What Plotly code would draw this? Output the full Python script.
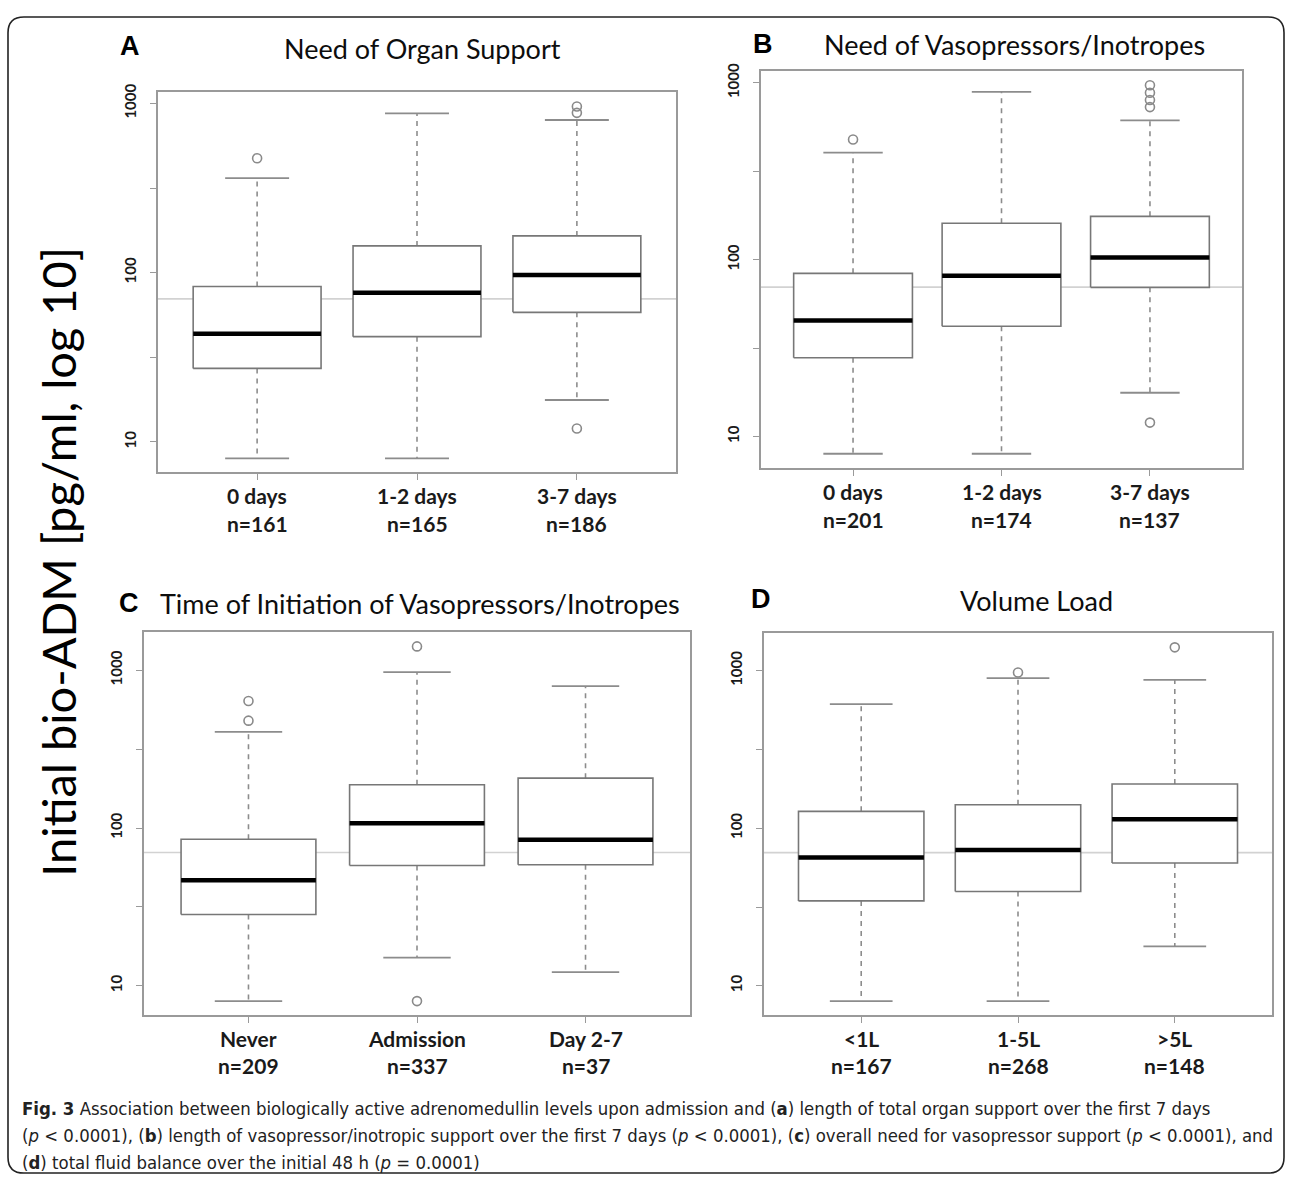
import math
import plotly.graph_objects as go

# ---------------- data ----------------
cats_A = ["0 days", "1-2 days", "3-7 days"]
n_A = [161, 165, 186]
q1_A = [27.2, 41.9, 58.3]
med_A = [43.6, 76.2, 96.9]
q3_A = [82.9, 144, 165]
lo_A = [8.0, 8.0, 17.7]
hi_A = [362, 873, 798]
out_A = [[474], [], [12.0, 880, 960]]

cats_B = ["0 days", "1-2 days", "3-7 days"]
n_B = [201, 174, 137]
q1_B = [27.9, 42.1, 69.8]
med_B = [45.4, 81.3, 103]
q3_B = [83.8, 161, 176]
lo_B = [8.0, 8.0, 17.7]
hi_B = [403, 889, 614]
out_B = [[479], [], [12.0, 730, 800, 880, 970]]

cats_C = ["Never", "Admission", "Day 2-7"]
n_C = [209, 337, 37]
q1_C = [28.3, 57.9, 58.5]
med_C = [46.6, 107, 84.4]
q3_C = [84.8, 188, 207]
lo_C = [8.0, 15.1, 12.2]
hi_C = [407, 973, 793]
out_C = [[479, 638], [8.0, 1416], []]

cats_D = ["<1L", "1-5L", ">5L"]
n_D = [167, 268, 148]
q1_D = [34.6, 39.7, 60.2]
med_D = [65.3, 72.8, 114]
q3_D = [128, 141, 191]
lo_D = [8.0, 8.0, 17.8]
hi_D = [613, 896, 875]
out_D = [[], [973], [1406]]

ref_level = 70

panel_letters = ["A", "B", "C", "D"]
panel_titles = ["Need of Organ Support", "Need of Vasopressors/Inotropes",
                "Time of Initiation of Vasopressors/Inotropes", "Volume Load"]
y_title = "Initial bio-ADM [pg/ml, log 10]"
ytick_vals = [10, 10 ** 1.5, 100, 10 ** 2.5, 1000]
ytick_text = ["<b>10</b>", "", "<b>100</b>", "", "<b>1000</b>"]

caption_lines = [
    "<b>Fig. 3</b> Association between biologically active adrenomedullin levels upon admission and (<b>a</b>) length of total organ support over the first 7 days",
    "(<i>p</i> &lt; 0.0001), (<b>b</b>) length of vasopressor/inotropic support over the first 7 days (<i>p</i> &lt; 0.0001), (<b>c</b>) overall need for vasopressor support (<i>p</i> &lt; 0.0001), and",
    "(<b>d</b>) total fluid balance over the initial 48 h (<i>p</i> = 0.0001)",
]

# ---------------- layout geometry (pixels) ----------------
W, H = 1290, 1180
# frame: (left, right, top, bottom)
frames = [(158, 676, 84, 467), (761, 1242, 62, 463),
          (144, 690, 628, 1014), (764, 1272, 629, 1014)]
letter_pos = [(130, 37), (763, 35), (129, 599), (761, 595)]
title_pos = [(422, 40), (1014, 36), (420, 599), (1036, 596)]


def px(x):
    return x / W


def py(y):
    return 1 - y / H


panels = [
    (cats_A, n_A, q1_A, med_A, q3_A, lo_A, hi_A, out_A),
    (cats_B, n_B, q1_B, med_B, q3_B, lo_B, hi_B, out_B),
    (cats_C, n_C, q1_C, med_C, q3_C, lo_C, hi_C, out_C),
    (cats_D, n_D, q1_D, med_D, q3_D, lo_D, hi_D, out_D),
]

fig = go.Figure()

BOX_COL = "#777777"
WHISK_COL = "#8c8c8c"
FRAME_COL = "#9a9a9a"
OUT_COL = "#8a8a8a"
LABEL_FONT = "Lato, Open Sans, sans-serif"

for p, (cats, ns, q1, med, q3, lo, hi, outs) in enumerate(panels):
    xa = "x" if p == 0 else f"x{p+1}"
    ya = "y" if p == 0 else f"y{p+1}"
    L, R, T, B = frames[p]
    for i in range(len(cats)):
        c = i + 1
        hw = 0.4
        cw = 0.2
        # whiskers (dashed)
        fig.add_trace(go.Scatter(x=[c, c], y=[q3[i], hi[i]], mode="lines",
                                 line=dict(color=WHISK_COL, width=1.6, dash="5px,5px"),
                                 xaxis=xa, yaxis=ya, showlegend=False, hoverinfo="skip"))
        fig.add_trace(go.Scatter(x=[c, c], y=[q1[i], lo[i]], mode="lines",
                                 line=dict(color=WHISK_COL, width=1.6, dash="5px,5px"),
                                 xaxis=xa, yaxis=ya, showlegend=False, hoverinfo="skip"))
        # caps
        for v in (hi[i], lo[i]):
            fig.add_trace(go.Scatter(x=[c - cw, c + cw], y=[v, v], mode="lines",
                                     line=dict(color=WHISK_COL, width=1.8),
                                     xaxis=xa, yaxis=ya, showlegend=False, hoverinfo="skip"))
        # box
        fig.add_trace(go.Scatter(x=[c - hw, c + hw, c + hw, c - hw, c - hw],
                                 y=[q1[i], q1[i], q3[i], q3[i], q1[i]], mode="lines",
                                 fill="toself", fillcolor="white",
                                 line=dict(color=BOX_COL, width=1.6),
                                 xaxis=xa, yaxis=ya, showlegend=False, hoverinfo="skip"))
        # median
        fig.add_trace(go.Scatter(x=[c - hw, c + hw], y=[med[i], med[i]], mode="lines",
                                 line=dict(color="black", width=4.5),
                                 xaxis=xa, yaxis=ya, showlegend=False, hoverinfo="skip"))
        # outliers
        if outs[i]:
            fig.add_trace(go.Scatter(x=[c] * len(outs[i]), y=outs[i], mode="markers",
                                     marker=dict(symbol="circle-open", size=9,
                                                 color=OUT_COL, line=dict(width=1.6, color=OUT_COL)),
                                     xaxis=xa, yaxis=ya, showlegend=False, hoverinfo="skip"))
        # category labels (two lines under the axis)
        for text, off in ((cats[i], 23), (f"n={ns[i]}", 51)):
            fig.add_annotation(x=c, xref=xa, y=py(B + off), yref="paper",
                               text=f"<b>{text.replace('<', '&lt;').replace('>', '&gt;')}</b>",
                               showarrow=False, xanchor="center", yanchor="middle",
                               font=dict(family=LABEL_FONT, size=21, color="#1a1a1a"))

    # axis ranges, R-style 4% padding in log space
    allv = lo + hi + [v for o in outs for v in o]
    lmin, lmax = math.log10(min(allv)), math.log10(max(allv))
    pad = 0.04 * (lmax - lmin)
    xkey = "xaxis" if p == 0 else f"xaxis{p+1}"
    ykey = "yaxis" if p == 0 else f"yaxis{p+1}"
    fig.layout[xkey] = dict(
        domain=[px(L), px(R)], range=[0.38, 3.62], anchor=ya,
        tickvals=[1, 2, 3], showticklabels=False,
        ticks="outside", ticklen=6, tickcolor=FRAME_COL, tickwidth=1.4,
        showline=True, mirror=True, linecolor=FRAME_COL, linewidth=1.6,
        showgrid=False, zeroline=False, fixedrange=True,
    )
    fig.layout[ykey] = dict(
        domain=[py(B), py(T)], type="log", range=[lmin - pad, lmax + pad], anchor=xa,
        tickvals=ytick_vals, ticktext=ytick_text, tickangle=-90,
        tickfont=dict(family=LABEL_FONT, size=15, color="#1a1a1a"),
        ticks="outside", ticklen=6, tickcolor=FRAME_COL, tickwidth=1.4,
        ticklabelstandoff=8,
        showline=True, mirror=True, linecolor=FRAME_COL, linewidth=1.6,
        showgrid=False, zeroline=False, fixedrange=True,
    )
    # reference line
    fig.add_shape(type="line", xref=f"{xa} domain", yref=ya, x0=0, x1=1,
                  y0=ref_level, y1=ref_level, line=dict(color="#d2d2d2", width=1.6),
                  layer="below")
    # panel letter and title
    lx, ly = letter_pos[p]
    fig.add_annotation(x=px(lx), y=py(ly), xref="paper", yref="paper", text=f"<b>{panel_letters[p]}</b>",
                       showarrow=False, font=dict(family="Liberation Sans, Arial, sans-serif", size=27, color="black"),
                       xanchor="center", yanchor="middle")
    tx, ty = title_pos[p]
    fig.add_annotation(x=px(tx), y=py(ty), xref="paper", yref="paper", text=panel_titles[p],
                       showarrow=False, font=dict(family=LABEL_FONT, size=27, color="#0d0d0d"),
                       xanchor="center", yanchor="middle")

# big y title
fig.add_annotation(x=px(58), y=py(557), xref="paper", yref="paper", text=y_title, textangle=-90,
                   showarrow=False, font=dict(family=LABEL_FONT, size=47, color="black"),
                   xanchor="center", yanchor="middle")

# caption
for k, (line, yy) in enumerate(zip(caption_lines, [1108, 1135, 1162])):
    fig.add_annotation(x=px(20), y=py(yy), xref="paper", yref="paper", text=line,
                       showarrow=False, align="left",
                       font=dict(family="DejaVu Sans Condensed, sans-serif", size=18.4, color="#222222"),
                       xanchor="left", yanchor="middle")

# outer rounded border
r = 16
x0, y0, x1, y1 = 8, 8, 1284, 1173


def P(x, y):
    return f"{px(x):.5f},{py(y):.5f}"


path = (f"M {P(x0 + r, y0)} L {P(x1 - r, y0)} Q {P(x1, y0)} {P(x1, y0 + r)} "
        f"L {P(x1, y1 - r)} Q {P(x1, y1)} {P(x1 - r, y1)} "
        f"L {P(x0 + r, y1)} Q {P(x0, y1)} {P(x0, y1 - r)} "
        f"L {P(x0, y0 + r)} Q {P(x0, y0)} {P(x0 + r, y0)} Z")
fig.add_shape(type="path", xref="paper", yref="paper", path=path,
              line=dict(color="#222222", width=1.6))

fig.update_layout(width=W, height=H, margin=dict(l=0, r=0, t=0, b=0),
                  paper_bgcolor="white", plot_bgcolor="white", showlegend=False)

fig.write_html("out.html", config={"displayModeBar": False},
               post_script="document.body.style.margin='0';")
